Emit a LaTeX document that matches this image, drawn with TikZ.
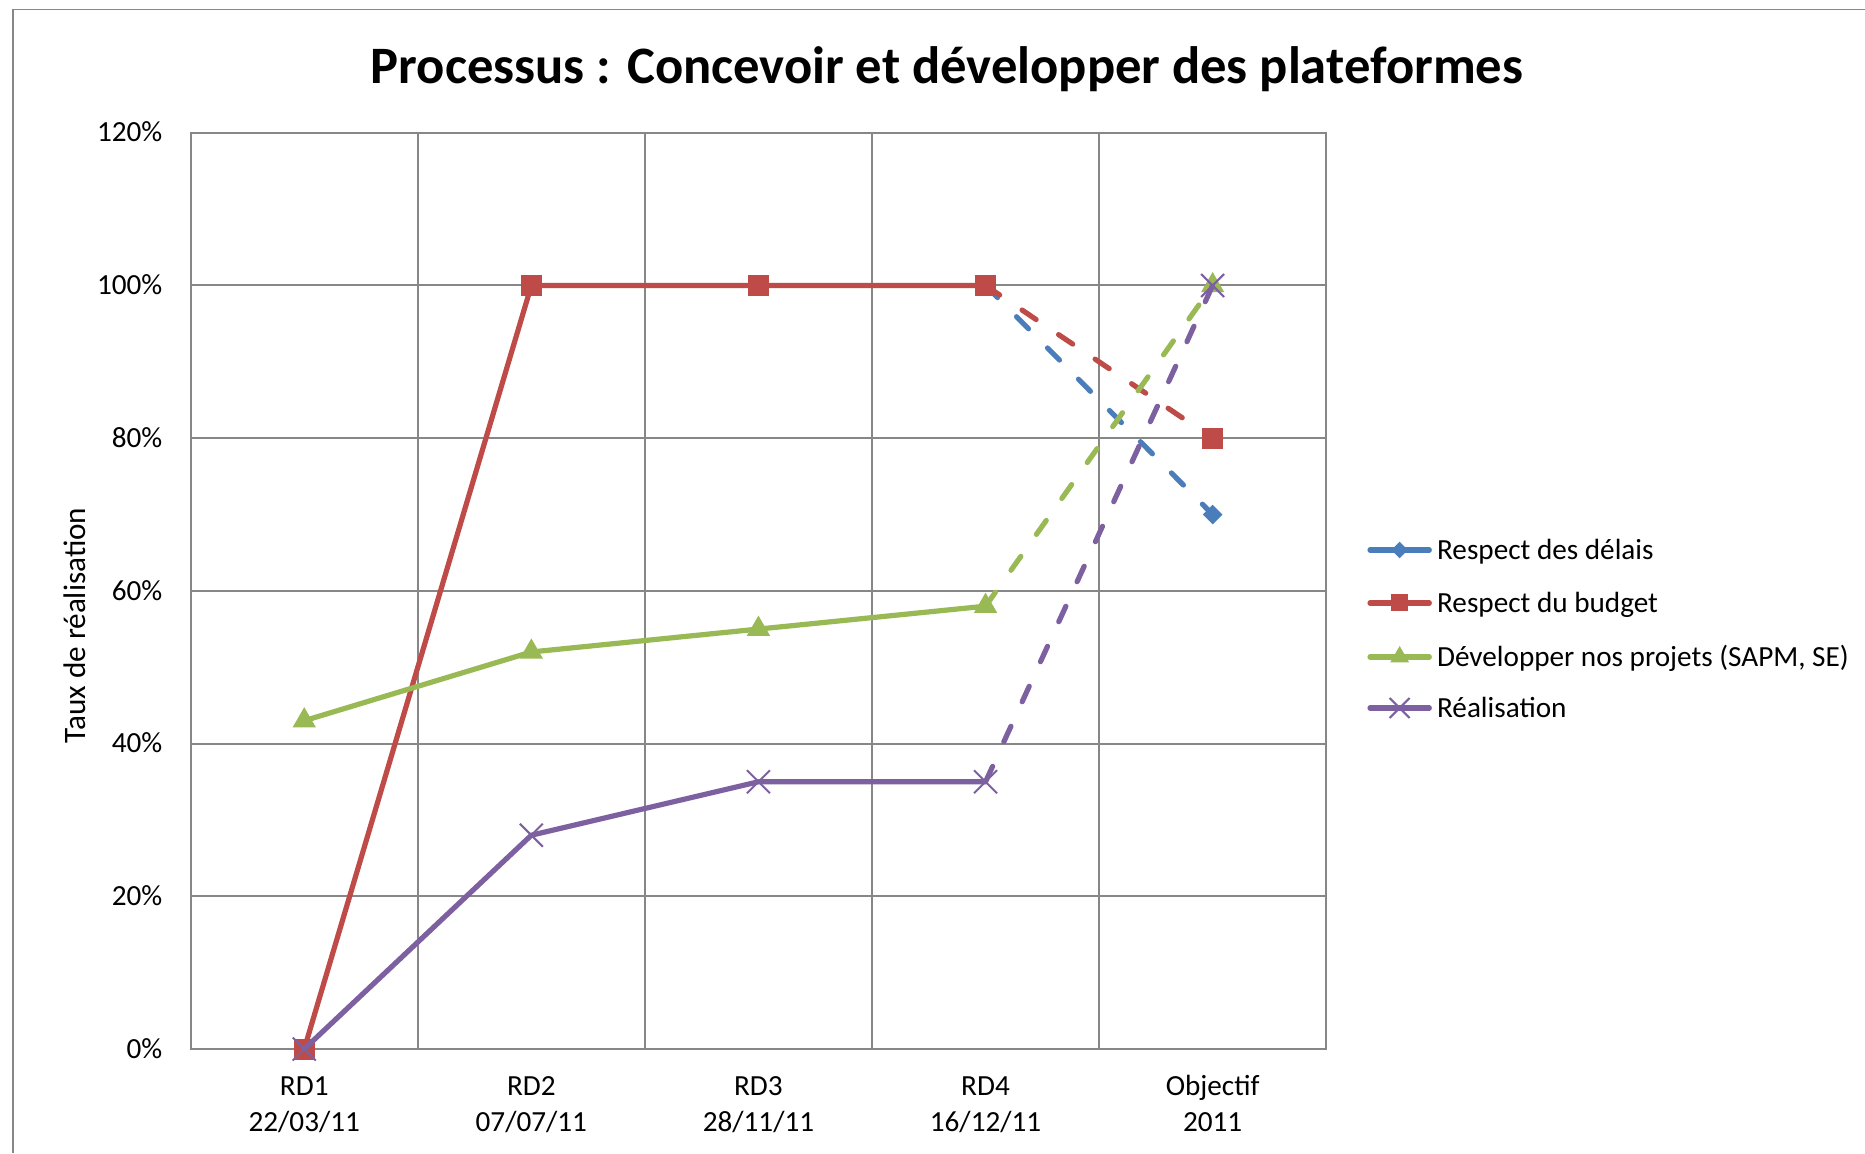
\documentclass[tikz,border=0pt]{standalone}
\usepackage{fontspec}
\setmainfont{Carlito}
\usepackage{tikz}
\usetikzlibrary{calc, shapes.geometric, shapes.misc}
\definecolor{delaiscol}{HTML}{4A7EBB}
\definecolor{budgetcol}{HTML}{BE4B48}
\definecolor{projetcol}{HTML}{98B954}
\definecolor{realcol}{HTML}{7D60A0}
\definecolor{gridcol}{HTML}{878787}
\tikzstyle{serie} = [line width=2.6pt, line cap=round, line join=round]
\tikzstyle{prevu} = [dash pattern=on 8.5pt off 13.5pt]

\begin{document}
\begin{tikzpicture}[
    x=113.55pt, y=3.8175pt,
    txt/.style={font=\fontsize{14.6}{18}\selectfont, inner sep=0pt},
    grille/.style={gridcol, line width=1pt},
    carre/.style={rectangle, fill=budgetcol, minimum size=10.5pt, inner sep=0pt},
    losange/.style={diamond, fill=delaiscol, minimum size=10pt, inner sep=0pt},
    triangle/.style={regular polygon, regular polygon sides=3, fill=projetcol,
      minimum size=13.5pt, inner sep=0pt},
    croix/.style={cross out, draw=realcol, line width=1pt, minimum size=10.5pt, inner sep=0pt},
  ]
  \useasboundingbox (-95.35pt,-52pt) rectangle (837.15pt,524.5pt);
  % cadre du graphique
  \draw[gridcol, line width=0.8pt] (-88.85pt,-52pt) -- (-88.85pt,519.75pt) -- (837.15pt,519.75pt);
  \node[font=\bfseries\fontsize{26.3}{30}\selectfont, inner sep=0pt, anchor=base] (titre)
    at (378.2pt,482.7pt) {Processus : Concevoir et développer des plateformes};

  % grille et axes
  \foreach \v in {20,40,...,120}
    \draw[grille] (0,\v) -- (5,\v);
  \foreach \c in {1,...,4}
    \draw[grille] (\c,0) -- (\c,120);
  \draw[grille] (0,0) rectangle (5,120);
  \foreach \v in {0,20,...,120}
    \node[txt, anchor=base east, yshift=-4.6pt] (t\v) at (-14pt,\v) {\v\%};
  \node[txt, font=\fontsize{15.6}{18}\selectfont, rotate=90] (ytitre) at (-58.2pt,211.7pt) {Taux de réalisation};

  \node[txt, anchor=north, align=center] (cat1) at (0.5,-10.6pt) {\strut RD1\\22/03/11};
  \node[txt, anchor=north, align=center] (cat2) at (1.5,-10.6pt) {\strut RD2\\07/07/11};
  \node[txt, anchor=north, align=center] (cat3) at (2.5,-10.6pt) {\strut RD3\\28/11/11};
  \node[txt, anchor=north, align=center] (cat4) at (3.5,-10.6pt) {\strut RD4\\16/12/11};
  \node[txt, anchor=north, align=center] (cat5) at (4.5,-10.6pt) {\strut Objectif\\2011};

  % points
  \coordinate (d4) at (3.5,100);
  \coordinate (d5) at (4.5,70);
  \coordinate (b1) at (0.5,0);
  \coordinate (b2) at (1.5,100);
  \coordinate (b3) at (2.5,100);
  \coordinate (b4) at (3.5,100);
  \coordinate (b5) at (4.5,80);
  \coordinate (p1) at (0.5,43);
  \coordinate (p2) at (1.5,52);
  \coordinate (p3) at (2.5,55);
  \coordinate (p4) at (3.5,58);
  \coordinate (p5) at (4.5,100);
  \coordinate (r1) at (0.5,0);
  \coordinate (r2) at (1.5,28);
  \coordinate (r3) at (2.5,35);
  \coordinate (r4) at (3.5,35);
  \coordinate (r5) at (4.5,100);

  % Respect des delais
  \draw[serie, prevu, delaiscol] (d4) -- (d5);
  \node[losange] at (d5) {};
  % Respect du budget
  \draw[serie, budgetcol] (b1) -- (b2) -- (b3) -- (b4);
  \draw[serie, prevu, budgetcol] (b4) -- (b5);
  \foreach \n in {b1,b2,b3,b4,b5}
    \node[carre] at (\n) {};
  % Developper nos projets
  \draw[serie, projetcol] (p1) -- (p2) -- (p3) -- (p4);
  \draw[serie, prevu, projetcol] (p4) -- (p5);
  \foreach \n in {p1,p2,p3,p4,p5}
    \node[triangle] at (\n) {};
  % Realisation
  \draw[serie, realcol] (r1) -- (r2) -- (r3) -- (r4);
  \draw[serie, prevu, realcol] (r4) -- (r5);
  \foreach \n in {r1,r2,r3,r4,r5}
    \node[croix] at (\n) {};

  % legende
  \coordinate (l1a) at (589.65pt,249.5pt);
  \coordinate (l1b) at (619.3pt,249.5pt);
  \coordinate (l2a) at (589.65pt,223pt);
  \coordinate (l2b) at (619.3pt,223pt);
  \coordinate (l3a) at (589.65pt,196pt);
  \coordinate (l3b) at (619.3pt,196pt);
  \coordinate (l4a) at (589.65pt,170.5pt);
  \coordinate (l4b) at (619.3pt,170.5pt);
  \draw[serie, delaiscol] (l1a) -- (l1b);
  \node[losange, minimum size=8.5pt] (k1) at ($(l1a)!0.5!(l1b)$) {};
  \node[txt, anchor=base west, yshift=-4.6pt] (e1) at (623pt,249.5pt) {Respect des délais};
  \draw[serie, budgetcol] (l2a) -- (l2b);
  \node[carre, minimum size=8.5pt] (k2) at ($(l2a)!0.5!(l2b)$) {};
  \node[txt, anchor=base west, yshift=-4.6pt] (e2) at (623pt,223pt) {Respect du budget};
  \draw[serie, projetcol] (l3a) -- (l3b);
  \node[triangle, minimum size=11pt] (k3) at ($(l3a)!0.5!(l3b)$) {};
  \node[txt, anchor=base west, yshift=-4.6pt] (e3) at (623pt,196pt) {Développer nos projets (SAPM, SE)};
  \draw[serie, realcol] (l4a) -- (l4b);
  \node[croix, minimum size=9pt] (k4) at ($(l4a)!0.5!(l4b)$) {};
  \node[txt, anchor=base west, yshift=-4.6pt] (e4) at (623pt,170.5pt) {Réalisation};
\end{tikzpicture}
\end{document}
